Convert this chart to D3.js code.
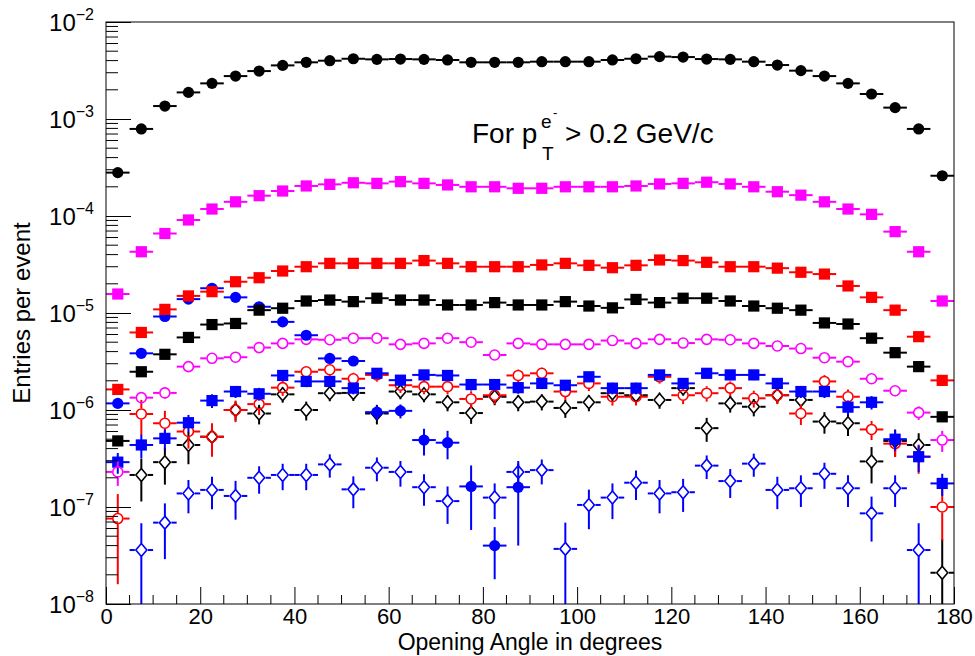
<!DOCTYPE html>
<html><head><meta charset="utf-8">
<script src="https://cdn.jsdelivr.net/npm/d3@7/dist/d3.min.js"></script>
<style>
body{margin:0;background:#fff}
svg text{font-family:"Liberation Sans",Arial,Helvetica,sans-serif;fill:#000}
</style>
</head><body>
<svg id="chart" width="975" height="656"></svg>
<script>
// ---------- data ----------
const angles = [2.5,7.5,12.5,17.5,22.5,27.5,32.5,37.5,42.5,47.5,52.5,57.5,62.5,67.5,72.5,77.5,82.5,87.5,
                92.5,97.5,102.5,107.5,112.5,117.5,122.5,127.5,132.5,137.5,142.5,147.5,152.5,157.5,162.5,167.5,172.5,177.5];
const xTickLabels = [0,20,40,60,80,100,120,140,160,180];
const yTickExponents = [-8,-7,-6,-5,-4,-3,-2];

const blackCircles = [2.8e-4,7.9e-4,1.36e-3,1.88e-3,2.33e-3,2.77e-3,3.12e-3,3.57e-3,3.84e-3,3.99e-3,4.18e-3,4.12e-3,
  4.15e-3,4.12e-3,4.06e-3,3.84e-3,3.84e-3,3.84e-3,3.9e-3,3.9e-3,3.9e-3,4.06e-3,4.18e-3,4.4e-3,
  4.35e-3,4.15e-3,4.12e-3,3.9e-3,3.6e-3,3.15e-3,2.77e-3,2.33e-3,1.81e-3,1.31e-3,7.9e-4,2.6e-4];

const magentaSquares = [1.57e-5,4.28e-5,6.6e-5,9.1e-5,1.18e-4,1.4e-4,1.62e-4,1.81e-4,2.04e-4,2.12e-4,2.2e-4,2.17e-4,
  2.26e-4,2.17e-4,2.09e-4,2.0e-4,2.0e-4,1.93e-4,1.93e-4,2.0e-4,2.0e-4,2.0e-4,2.04e-4,2.14e-4,
  2.17e-4,2.23e-4,2.14e-4,2.0e-4,1.78e-4,1.64e-4,1.4e-4,1.18e-4,1.04e-4,6.9e-5,4.28e-5,1.33e-5];

const redSquares = [1.63e-6,6.3e-6,1.09e-5,1.5e-5,1.66e-5,2.1e-5,2.31e-5,2.71e-5,3.0e-5,3.25e-5,3.25e-5,3.25e-5,
  3.25e-5,3.47e-5,3.25e-5,3.0e-5,3.0e-5,3.0e-5,3.13e-5,3.25e-5,3.1e-5,2.93e-5,3.1e-5,3.52e-5,
  3.47e-5,3.33e-5,3.0e-5,3.0e-5,2.9e-5,2.63e-5,2.52e-5,1.9e-5,1.45e-5,1.07e-5,5.7e-6,2.02e-6];

const blackSquares = [4.8e-7,2.48e-6,3.75e-6,5.6e-6,7.6e-6,7.8e-6,1.07e-5,1.12e-5,1.33e-5,1.36e-5,1.31e-5,1.42e-5,
  1.36e-5,1.36e-5,1.21e-5,1.21e-5,1.28e-5,1.21e-5,1.21e-5,1.31e-5,1.18e-5,1.13e-5,1.38e-5,1.28e-5,
  1.42e-5,1.42e-5,1.33e-5,1.18e-5,1.12e-5,1.07e-5,7.9e-6,7.7e-6,5.5e-6,3.9e-6,2.8e-6,8.5e-7];

const blueCircles = [1.17e-6,3.84e-6,9.2e-6,1.39e-5,1.8e-5,1.45e-5,1.16e-5,8.1e-6,5.9e-6,3.4e-6,3.2e-6,9.5e-7,
  9.8e-7,4.9e-7,4.6e-7,1.63e-7,4.0e-8,1.6e-7,null,null,null,null,null,null,
  null,null,null,null,null,null,null,null,null,null,null,null];
const blueCirclesErr = [1.2e-7,3e-7,5e-7,7e-7,8e-7,7e-7,6e-7,5e-7,4e-7,3e-7,3e-7,1.6e-7,
  1.6e-7,1.5e-7,1.5e-7,1.05e-7,2.2e-8,1.2e-7,0,0,0,0,0,0,
  0,0,0,0,0,0,0,0,0,0,0,0];

const magentaOpen = [2.3e-7,1.34e-6,1.5e-6,2.8e-6,3.41e-6,3.5e-6,4.4e-6,4.86e-6,5.35e-6,5.3e-6,5.5e-6,5.5e-6,
  4.75e-6,4.86e-6,5.5e-6,5.0e-6,3.69e-6,4.86e-6,4.75e-6,4.75e-6,4.75e-6,5.2e-6,4.86e-6,5.35e-6,
  4.9e-6,5.35e-6,5.3e-6,4.86e-6,4.57e-6,4.3e-6,3.46e-6,3.15e-6,2.1e-6,1.58e-6,9.4e-7,4.9e-7];
const magentaOpenErr = [6.5e-8,1.8e-7,2e-7,2.6e-7,3e-7,3e-7,3.3e-7,3.5e-7,3.7e-7,3.7e-7,3.7e-7,3.7e-7,
  3.4e-7,3.5e-7,3.7e-7,3.5e-7,3e-7,3.5e-7,3.4e-7,3.4e-7,3.4e-7,3.6e-7,3.5e-7,3.7e-7,
  3.5e-7,3.7e-7,3.7e-7,3.5e-7,3.4e-7,3.3e-7,3e-7,2.8e-7,2.3e-7,2e-7,1.5e-7,1.2e-7];

const blueSquares = [2.9e-7,4.36e-7,5.1e-7,7.4e-7,1.25e-6,1.55e-6,1.47e-6,2.27e-6,1.97e-6,1.97e-6,1.68e-6,2.39e-6,
  2.03e-6,2.3e-6,2.27e-6,1.83e-6,1.83e-6,1.7e-6,1.88e-6,1.8e-6,2.2e-6,1.68e-6,1.68e-6,2.3e-6,
  1.88e-6,2.39e-6,2.3e-6,2.3e-6,1.88e-6,1.55e-6,1.55e-6,1.07e-6,1.2e-6,5.0e-7,3.3e-7,1.75e-7];
const blueSquaresErr = [7e-8,1.2e-7,1.2e-7,1.5e-7,2e-7,2.2e-7,2.2e-7,2.7e-7,2.5e-7,2.5e-7,2.3e-7,2.7e-7,
  2.5e-7,2.7e-7,2.7e-7,2.4e-7,2.4e-7,2.3e-7,2.4e-7,2.4e-7,2.6e-7,2.3e-7,2.3e-7,2.7e-7,
  2.4e-7,2.7e-7,2.7e-7,2.7e-7,2.4e-7,2.2e-7,2.2e-7,1.8e-7,1.9e-7,1.2e-7,1e-7,4.5e-8];

const redOpen = [7.6e-8,9.1e-7,7.3e-7,6.0e-7,5.3e-7,1.0e-6,1.15e-6,1.7e-6,2.48e-6,2.6e-6,2.1e-6,2.3e-6,
  1.8e-6,1.74e-6,1.74e-6,1.3e-6,1.42e-6,2.27e-6,2.39e-6,1.55e-6,1.88e-6,1.37e-6,1.37e-6,2.2e-6,
  1.42e-6,1.49e-6,1.68e-6,1.32e-6,1.42e-6,9.2e-7,1.97e-6,1.37e-6,6.3e-7,4.5e-7,3.3e-7,1.0e-7];
const redOpenErr = [6e-8,3.6e-7,2.5e-7,2e-7,2e-7,2.5e-7,2.6e-7,3e-7,3.5e-7,3.6e-7,3.2e-7,3.4e-7,
  3e-7,2.9e-7,2.9e-7,2.6e-7,2.7e-7,3.4e-7,3.5e-7,2.8e-7,3.1e-7,2.6e-7,2.6e-7,3.3e-7,
  2.7e-7,2.7e-7,2.9e-7,2.6e-7,2.7e-7,2.2e-7,3.2e-7,2.6e-7,1.4e-7,1.2e-7,1.1e-7,5.5e-8];

const blackOpen = [null,2.14e-7,2.9e-7,4.36e-7,5.3e-7,1.0e-6,9.2e-7,1.45e-6,1.0e-6,1.49e-6,1.5e-6,9.2e-7,
  1.55e-6,1.45e-6,1.2e-6,9.3e-7,1.37e-6,1.2e-6,1.22e-6,1.05e-6,1.2e-6,1.49e-6,1.42e-6,1.27e-6,
  1.68e-6,6.5e-7,1.17e-6,1.08e-6,1.42e-6,1.27e-6,7.6e-7,7.3e-7,2.95e-7,4.8e-7,4.36e-7,2.1e-8];
const blackOpenErr = [0,1e-7,1.2e-7,1.6e-7,1.8e-7,2.2e-7,2.1e-7,2.6e-7,2.2e-7,2.6e-7,2.6e-7,2.1e-7,
  2.6e-7,2.5e-7,2.3e-7,2.1e-7,2.5e-7,2.3e-7,2.3e-7,2.2e-7,2.3e-7,2.6e-7,2.5e-7,2.4e-7,
  2.7e-7,1.8e-7,2.3e-7,2.2e-7,2.5e-7,2.4e-7,1.9e-7,1.9e-7,1.2e-7,1.5e-7,1.4e-7,2.6e-8];

const blueOpen = [null,3.6e-8,6.9e-8,1.38e-7,1.5e-7,1.3e-7,2.0e-7,2.14e-7,2.14e-7,2.75e-7,1.52e-7,2.54e-7,
  2.3e-7,1.6e-7,1.15e-7,null,1.25e-7,2.3e-7,2.4e-7,3.7e-8,1.05e-7,1.25e-7,1.78e-7,1.38e-7,
  1.42e-7,2.67e-7,1.85e-7,2.8e-7,1.5e-7,1.56e-7,2.2e-7,1.56e-7,8.6e-8,1.56e-7,3.6e-8,null];
const blueOpenErr = [0,3.2e-8,4e-8,5.2e-8,5.5e-8,5.6e-8,6.3e-8,6.5e-8,6.5e-8,7.4e-8,5.5e-8,7e-8,
  6.8e-8,5.7e-8,4.8e-8,0,5e-8,6.8e-8,6.9e-8,3.2e-8,4.6e-8,5e-8,6e-8,5.2e-8,
  5.3e-8,7.3e-8,6.1e-8,7.5e-8,5.5e-8,5.6e-8,6.6e-8,5.6e-8,4.2e-8,5.6e-8,3.2e-8,0];

// ---------- series definitions (style) ----------
const series = [
  {values: blueOpen,       errors: blueOpenErr,    color: "#0000ff", marker: "openDiamond"},
  {values: blackOpen,      errors: blackOpenErr,   color: "#000000", marker: "openDiamond"},
  {values: redOpen,        errors: redOpenErr,     color: "#ff0000", marker: "openCircle"},
  {values: blueSquares,    errors: blueSquaresErr, color: "#0000ff", marker: "square"},
  {values: magentaOpen,    errors: magentaOpenErr, color: "#ff00ff", marker: "openCircle"},
  {values: blueCircles,    errors: blueCirclesErr, color: "#0000ff", marker: "circle"},
  {values: blackSquares,   errors: null,           color: "#000000", marker: "square"},
  {values: redSquares,     errors: null,           color: "#ff0000", marker: "square"},
  {values: magentaSquares, errors: null,           color: "#ff00ff", marker: "square"},
  {values: blackCircles,   errors: null,           color: "#000000", marker: "circle"}
];

// ---------- layout ----------
const L = 106, R = 954, T = 22, B = 604;
const svg = d3.select("#chart");
const x = d3.scaleLinear().domain([0,180]).range([L,R]);
const y = d3.scaleLog().domain([1e-8,1e-2]).range([B,T]);
const halfBin = 2.5;

svg.append("defs").append("clipPath").attr("id","plotclip")
  .append("rect").attr("x",L).attr("y",T).attr("width",R-L).attr("height",B-T);

const plot = svg.append("g").attr("clip-path","url(#plotclip)");

const markerHalf = {circle:5.5, square:5.5, openCircle:5.5, openDiamond:6.5};

series.forEach(s => {
  const g = plot.append("g");
  const pts = angles.map((a,i) => ({a, v: s.values[i], e: s.errors ? s.errors[i] : 0}))
                    .filter(d => d.v != null && d.v > 0);
  const open = s.marker.startsWith("open");
  const gap = open ? markerHalf[s.marker] : 0;
  pts.forEach(d => {
    const cx = x(d.a), cy = y(d.v);
    const x0 = x(d.a - halfBin), x1 = x(d.a + halfBin);
    g.append("line").attr("x1",x0).attr("x2",cx-gap).attr("y1",cy).attr("y2",cy)
      .attr("stroke",s.color).attr("stroke-width",2);
    g.append("line").attr("x1",cx+gap).attr("x2",x1).attr("y1",cy).attr("y2",cy)
      .attr("stroke",s.color).attr("stroke-width",2);
    if (d.e > 0) {
      const yTop = y(d.v + d.e);
      const yBot = (d.v - d.e) > 1e-9 ? y(d.v - d.e) : B + 5;
      if (yTop < cy - gap) g.append("line").attr("x1",cx).attr("x2",cx).attr("y1",yTop).attr("y2",cy-gap)
        .attr("stroke",s.color).attr("stroke-width",2);
      if (yBot > cy + gap) g.append("line").attr("x1",cx).attr("x2",cx).attr("y1",cy+gap).attr("y2",yBot)
        .attr("stroke",s.color).attr("stroke-width",2);
    }
    if (s.marker === "circle") {
      g.append("circle").attr("cx",cx).attr("cy",cy).attr("r",5.6).attr("fill",s.color);
    } else if (s.marker === "square") {
      g.append("rect").attr("x",cx-5.6).attr("y",cy-5.6).attr("width",11.2).attr("height",11.2).attr("fill",s.color);
    } else if (s.marker === "openCircle") {
      g.append("circle").attr("cx",cx).attr("cy",cy).attr("r",5).attr("fill","none")
        .attr("stroke",s.color).attr("stroke-width",1.6);
    } else if (s.marker === "openDiamond") {
      const hw = 5.5, hh = 6.5;
      g.append("path").attr("d",`M${cx},${cy-hh}L${cx+hw},${cy}L${cx},${cy+hh}L${cx-hw},${cy}Z`)
        .attr("fill","none").attr("stroke",s.color).attr("stroke-width",1.6);
    }
  });
});

// ---------- axes ----------
const axes = svg.append("g");
const xAxis = d3.axisBottom(x).tickValues(xTickLabels).tickSize(-17).tickPadding(4).tickFormat(d3.format("d"));
const gx = axes.append("g").attr("transform",`translate(0,${B})`).call(xAxis);
gx.select(".domain").remove();
gx.selectAll(".tick line").attr("stroke","#000").attr("stroke-width",1);
gx.selectAll(".tick text").attr("font-size",22).attr("font-family","Liberation Sans, Arial, sans-serif").attr("fill","#000");
const xMinor = d3.range(0,181,5).filter(v => v % 20 !== 0);
axes.selectAll(".xminor").data(xMinor).enter().append("line")
  .attr("x1",d=>x(d)).attr("x2",d=>x(d)).attr("y1",B).attr("y2",B-9)
  .attr("stroke","#000").attr("stroke-width",1);

const yMajor = yTickExponents.map(e => Math.pow(10,e));
const yAxis = d3.axisLeft(y).tickValues(yMajor).tickSize(-25).tickFormat("");
const gy = axes.append("g").attr("transform",`translate(${L},0)`).call(yAxis);
gy.select(".domain").remove();
gy.selectAll(".tick line").attr("stroke","#000").attr("stroke-width",1);
const yMinor = [];
yTickExponents.slice(0,-1).forEach(e => { for (let k=2;k<=9;k++) yMinor.push(k*Math.pow(10,e)); });
axes.selectAll(".yminor").data(yMinor).enter().append("line")
  .attr("x1",L).attr("x2",L+12).attr("y1",d=>y(d)).attr("y2",d=>y(d))
  .attr("stroke","#000").attr("stroke-width",1);
yTickExponents.forEach(e => {
  const t = axes.append("text").attr("x",94).attr("y",y(Math.pow(10,e))+9)
    .attr("text-anchor","end").attr("font-size",24);
  t.append("tspan").text("10");
  t.append("tspan").attr("dy",-11).attr("font-size",16).text("\u2212" + Math.abs(e));
});

svg.append("rect").attr("x",L).attr("y",T).attr("width",R-L).attr("height",B-T)
  .attr("fill","none").attr("stroke","#000").attr("stroke-width",1);

svg.append("text").attr("x",(L+R)/2).attr("y",650).attr("text-anchor","middle")
  .attr("font-size",23).text("Opening Angle in degrees");
svg.append("text").attr("transform",`translate(30,${(T+B)/2}) rotate(-90)`).attr("text-anchor","middle")
  .attr("font-size",24).text("Entries per event");

const ann = svg.append("g");
ann.append("text").attr("x",472).attr("y",143).attr("font-size",28).text("For p");
ann.append("text").attr("x",542).attr("y",160).attr("font-size",19).text("T");
ann.append("text").attr("x",541).attr("y",128).attr("font-size",19).text("e");
ann.append("text").attr("x",553).attr("y",117).attr("font-size",13).text("-");
ann.append("text").attr("x",565).attr("y",143).attr("font-size",28).text("> 0.2 GeV/c");
</script>
</body></html>
